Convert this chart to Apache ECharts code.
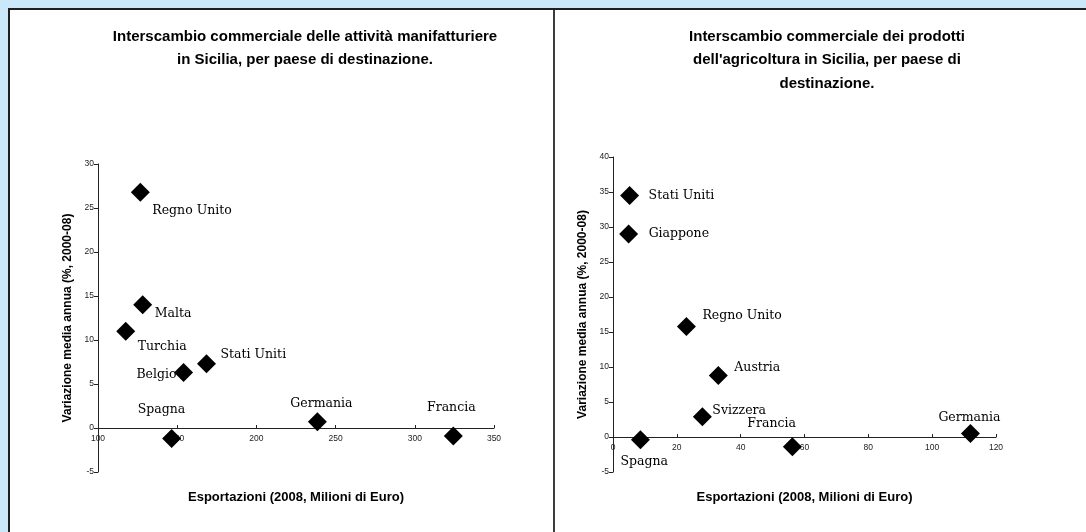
<!DOCTYPE html>
<html>
<head>
<meta charset="utf-8">
<script src="https://cdn.jsdelivr.net/npm/echarts@6/dist/echarts.min.js"></script>
<style>
html,body{margin:0;padding:0;background:#cbe8fb;}
#c{width:1086px;height:532px;}
</style>
</head>
<body>
<div id="c"></div>
<script>
// ---- Data: manufacturing (left) ----
const manCountries = ['Regno Unito','Malta','Turchia','Belgio','Stati Uniti','Spagna','Germania','Francia'];
const manExports   = [126.7, 128.2, 117.5, 154.0, 168.5, 146.5, 238.5, 324.3];
const manGrowth    = [26.8, 14.0, 11.0, 6.3, 7.3, -1.2, 0.7, -0.9];

// ---- Data: agriculture (right) ----
const agrCountries = ['Stati Uniti','Giappone','Regno Unito','Austria','Svizzera','Spagna','Francia','Germania'];
const agrExports   = [5.2, 4.9, 23.0, 33.0, 28.0, 8.6, 56.2, 112.0];
const agrGrowth    = [34.5, 29.0, 15.8, 8.8, 2.9, -0.4, -1.4, 0.5];

// ---- Axis ranges ----
const manXRange = [100, 350, 50];
const manYRange = [-5, 30, 5];
const agrXRange = [0, 120, 20];
const agrYRange = [-5, 40, 5];

// ---- Texts ----
const titleLeft  = 'Interscambio commerciale delle attività manifatturiere\nin Sicilia, per paese di destinazione.';
const titleRight = 'Interscambio commerciale dei prodotti\ndell\'agricoltura in Sicilia, per paese di\ndestinazione.';
const yTitle = 'Variazione media annua (%, 2000-08)';
const xTitle = 'Esportazioni (2008, Milioni di Euro)';

// ---- Label placement (style, not data) ----
const manLabelPos = {
  'Regno Unito': {align:'left',  offset:[12, 19]},
  'Malta':       {align:'left',  offset:[12, 9]},
  'Turchia':     {align:'left',  offset:[12, 16]},
  'Belgio':      {align:'right', offset:[-7, 2]},
  'Stati Uniti': {align:'left',  offset:[14, -9]},
  'Spagna':      {align:'left',  offset:[-34, -29]},
  'Germania':    {align:'center',offset:[4, -18]},
  'Francia':     {align:'center',offset:[-2, -28]}
};
const agrLabelPos = {
  'Stati Uniti': {align:'left',  offset:[19, 0]},
  'Giappone':    {align:'left',  offset:[20, 0]},
  'Regno Unito': {align:'left',  offset:[16, -11]},
  'Austria':     {align:'left',  offset:[16, -8]},
  'Svizzera':    {align:'left',  offset:[10, -6]},
  'Spagna':      {align:'left',  offset:[-20, 22]},
  'Francia':     {align:'left',  offset:[-45, -23]},
  'Germania':    {align:'center',offset:[-1, -16]}
};

function buildData(names, xs, ys, pos) {
  return names.map((n, i) => ({
    name: n,
    value: [xs[i], ys[i]],
    label: {
      show: true, position: 'inside', formatter: '{b}',
      verticalAlign: 'middle',
      align: pos[n].align, offset: pos[n].offset,
      color: '#000', fontFamily: 'DejaVu Serif', fontSize: 12.5
    }
  }));
}

const tickLabel = {fontFamily: 'Liberation Sans', fontSize: 8.5, color: '#222'};
const nameStyle = {fontFamily: 'Liberation Sans', fontWeight: 'bold', color: '#000'};

const gridL = {left: 98, top: 164, width: 396, height: 308};
const gridR = {left: 613, top: 157, width: 383, height: 315};
const xNameY = 497; // vertical centre of x-axis titles

// x axis drawn along the zero line of its y range
function xAxisCfg(gi, xr, yr, grid) {
  const zeroUp = grid.height * (0 - yr[0]) / (yr[1] - yr[0]); // px from bottom to zero
  const zeroY = grid.top + grid.height - zeroUp;
  return {
    type: 'value', gridIndex: gi, min: xr[0], max: xr[1], interval: xr[2],
    offset: -zeroUp,
    axisLine: {show: true, onZero: false, lineStyle: {color: '#222', width: 1}},
    axisTick: {show: true, inside: true, length: 3, lineStyle: {color: '#222'}},
    axisLabel: Object.assign({margin: 6}, tickLabel),
    splitLine: {show: false},
    name: xTitle, nameLocation: 'middle', nameGap: xNameY - zeroY - 6.5,
    nameTextStyle: Object.assign({fontSize: 13}, nameStyle)
  };
}
function yAxisCfg(gi, yr) {
  return {
    type: 'value', gridIndex: gi, min: yr[0], max: yr[1], interval: yr[2],
    axisLine: {show: true, onZero: false, lineStyle: {color: '#222', width: 1}},
    axisTick: {show: true, inside: false, length: 4, lineStyle: {color: '#222'}},
    axisLabel: Object.assign({margin: 4}, tickLabel),
    splitLine: {show: false},
    name: yTitle, nameLocation: 'middle', nameRotate: 90, nameGap: 24,
    nameTextStyle: Object.assign({fontSize: 12}, nameStyle)
  };
}

const chart = echarts.init(document.getElementById('c'), null, {renderer: 'canvas'});

chart.setOption({
  animation: false,
  backgroundColor: '#cbe8fb',
  graphic: [
    {type: 'rect', shape: {x: 9, y: 9, width: 1090, height: 540},
     style: {fill: '#ffffff', stroke: '#1e1e1e', lineWidth: 2}, z: -10},
    {type: 'rect', shape: {x: 553, y: 10, width: 2, height: 530},
     style: {fill: '#3c3c3c'}, z: -9},
    {type: 'text', x: 305, y: 25, z: 10,
     style: {text: titleLeft, textAlign: 'center', textVerticalAlign: 'top',
             font: 'bold 15px "Liberation Sans"', lineHeight: 23.5, fill: '#000'}},
    {type: 'text', x: 827, y: 25, z: 10,
     style: {text: titleRight, textAlign: 'center', textVerticalAlign: 'top',
             font: 'bold 15px "Liberation Sans"', lineHeight: 23.5, fill: '#000'}}
  ],
  grid: [
    Object.assign({containLabel: false, outerBoundsMode: 'none'}, gridL),
    Object.assign({containLabel: false, outerBoundsMode: 'none'}, gridR)
  ],
  xAxis: [xAxisCfg(0, manXRange, manYRange, gridL), xAxisCfg(1, agrXRange, agrYRange, gridR)],
  yAxis: [yAxisCfg(0, manYRange), yAxisCfg(1, agrYRange)],
  series: [
    {type: 'scatter', xAxisIndex: 0, yAxisIndex: 0, symbol: 'diamond', symbolSize: 19,
     itemStyle: {color: '#000', opacity: 1},
     data: buildData(manCountries, manExports, manGrowth, manLabelPos)},
    {type: 'scatter', xAxisIndex: 1, yAxisIndex: 1, symbol: 'diamond', symbolSize: 19,
     itemStyle: {color: '#000', opacity: 1},
     data: buildData(agrCountries, agrExports, agrGrowth, agrLabelPos)}
  ]
});
</script>
</body>
</html>
